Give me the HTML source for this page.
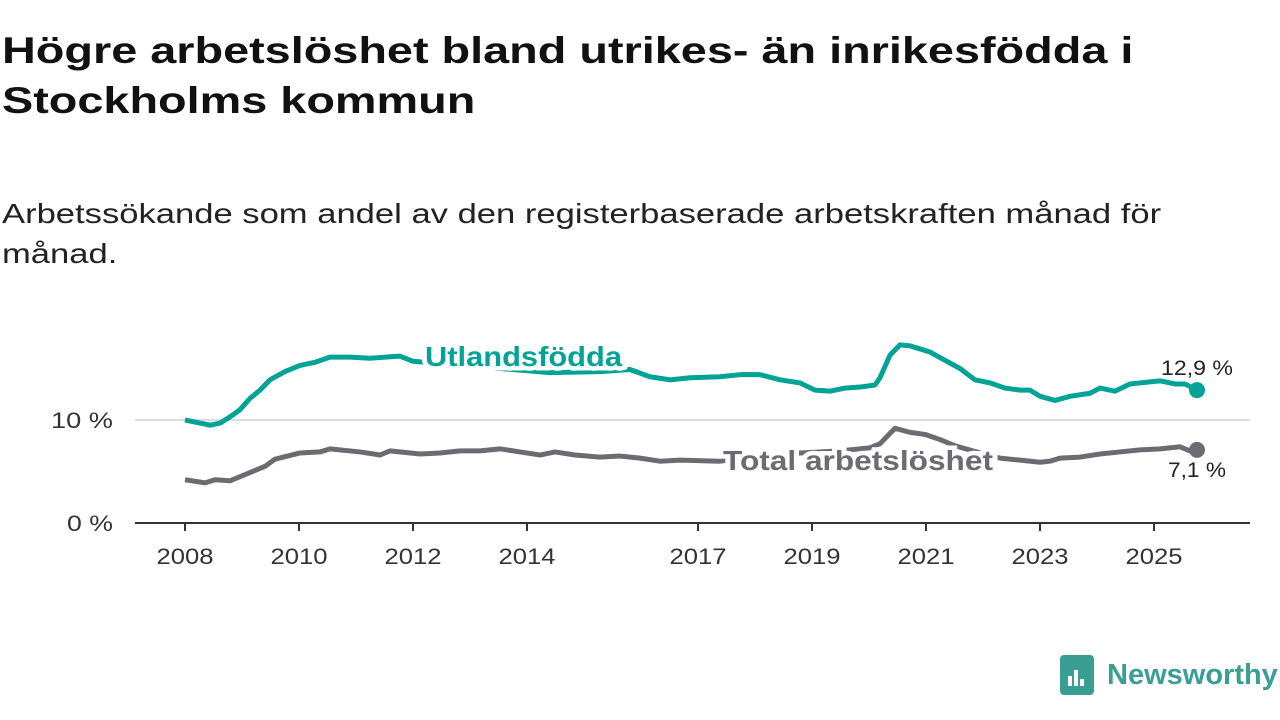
<!DOCTYPE html>
<html><head><meta charset="utf-8">
<style>
body{margin:0;width:1280px;height:720px;background:#fff;font-family:"Liberation Sans",sans-serif;overflow:hidden;position:relative}
h1{position:absolute;left:2px;top:26px;margin:0;font-size:37px;line-height:50px;font-weight:bold;color:#111;transform:scaleX(1.265);transform-origin:0 0;white-space:nowrap}
.sub{position:absolute;left:2px;top:194px;font-size:28px;line-height:40px;color:#222;transform:scaleX(1.235);transform-origin:0 0;white-space:nowrap}
svg{position:absolute;left:0;top:0}
</style></head><body>
<h1>Högre arbetslöshet bland utrikes- än inrikesfödda i<br>Stockholms kommun</h1>
<div class="sub">Arbetssökande som andel av den registerbaserade arbetskraften månad för<br>månad.</div>
<svg id="chart" width="1280" height="720"></svg>
<div style="position:absolute;left:1060px;top:655px;display:flex;align-items:center;color:#3a9e94;font-size:29px;font-weight:bold">
<div style="width:34px;height:40px;background:#3a9e94;border-radius:4px;margin-right:13px;position:relative"><div style="position:absolute;left:8px;bottom:9px;width:4px;height:10px;background:#fff"></div><div style="position:absolute;left:14px;bottom:9px;width:4px;height:16px;background:#fff"></div><div style="position:absolute;left:20px;bottom:9px;width:4px;height:7px;background:#fff"></div></div>Newsworthy</div>
<script>
const tickYears=[2008,2010,2012,2014,2017,2019,2021,2023,2025];
const yTicks=[0,10];
const teal=[[185,10.0],[200,9.7],[210,9.5],[220,9.7],[230,10.3],[240,11.0],[250,12.1],[260,12.9],[270,13.9],[285,14.7],[300,15.3],[315,15.6],[330,16.1],[350,16.1],[370,16.0],[385,16.1],[400,16.2],[413,15.7],[450,15.4],[500,15.0],[550,14.6],[600,14.7],[630,14.9],[650,14.2],[670,13.9],[690,14.1],[720,14.2],[740,14.4],[760,14.4],[780,13.9],[800,13.6],[815,12.9],[830,12.8],[845,13.1],[860,13.2],[875,13.4],[880,14.1],[890,16.3],[900,17.3],[910,17.2],[920,16.9],[930,16.6],[945,15.8],[960,15.0],[975,13.9],[990,13.6],[1005,13.1],[1020,12.9],[1030,12.9],[1040,12.3],[1055,11.9],[1070,12.3],[1090,12.6],[1100,13.1],[1115,12.8],[1130,13.5],[1150,13.7],[1160,13.8],[1175,13.5],[1185,13.5],[1197,12.9]];
const gray=[[185,4.2],[205,3.9],[215,4.2],[230,4.1],[250,4.9],[265,5.5],[275,6.2],[300,6.8],[320,6.9],[330,7.2],[360,6.9],[380,6.6],[390,7.0],[420,6.7],[440,6.8],[460,7.0],[480,7.0],[500,7.2],[520,6.9],[540,6.6],[555,6.9],[575,6.6],[600,6.4],[620,6.5],[640,6.3],[660,6.0],[680,6.1],[720,6.0],[760,6.5],[800,6.8],[840,7.0],[870,7.3],[880,7.7],[895,9.2],[910,8.8],[925,8.6],[940,8.1],[955,7.5],[980,6.8],[1000,6.3],[1020,6.1],[1040,5.9],[1050,6.0],[1060,6.3],[1080,6.4],[1100,6.7],[1120,6.9],[1140,7.1],[1160,7.2],[1180,7.4],[1190,7.0],[1197,7.1]];
const endLabels=["12,9 %","7,1 %"];
const X=v=>185+(v-185), Y=v=>523-v*10.3, XY=y=>185+(y-2008)*57;
const s=document.getElementById('chart'),NS='http://www.w3.org/2000/svg';
function el(t,a,txt){const e=document.createElementNS(NS,t);for(const k in a)e.setAttribute(k,a[k]);if(txt)e.textContent=txt;s.appendChild(e);return e;}
const SG='spacingAndGlyphs';
let g=el('line',{x1:135,x2:1250,y1:Y(10),y2:Y(10),stroke:'#ddd','stroke-width':2});


yTicks.forEach(t=>{const e=el('text',{x:113,y:Y(t)+8,'text-anchor':'end','font-size':22,fill:'#333',textLength:t?62:46,lengthAdjust:SG},t+' %');

});
let ax=el('line',{x1:135,x2:1250,y1:523,y2:523,stroke:'#333','stroke-width':2});


tickYears.forEach(t=>{const x=XY(t);el('line',{x1:x,x2:x,y1:523,y2:531,stroke:'#333','stroke-width':2});
const e=el('text',{x:x,y:564,'text-anchor':'middle','font-size':22,fill:'#333',textLength:57,lengthAdjust:SG},t);

});
function line(d,c,n){const p=el('path',{d:d.map((p,i)=>(i?'L':'M')+X(p[0])+','+Y(p[1])).join(''),fill:'none',stroke:c,'stroke-width':5,'stroke-linejoin':'round'});


const l=d[d.length-1];const c2=el('circle',{cx:X(l[0]),cy:Y(l[1]),r:8,fill:c});

}
line(gray,'#6d6b72','series-total');
line(teal,'#00a396','series-utlandsfodda');
let t1=el('text',{x:425,y:366,'font-size':28,'font-weight':'bold',fill:'#00a396',stroke:'#fff','stroke-width':9,'paint-order':'stroke',textLength:197,lengthAdjust:SG},'Utlandsfödda');


let t2=el('text',{x:723,y:470,'font-size':28,'font-weight':'bold',fill:'#6d6b72',stroke:'#fff','stroke-width':9,'paint-order':'stroke',textLength:270,lengthAdjust:SG},'Total arbetslöshet');


let e1=el('text',{x:1197,y:375,'text-anchor':'middle','font-size':21,fill:'#222',textLength:72,lengthAdjust:SG},endLabels[0]);


let e2=el('text',{x:1197,y:477,'text-anchor':'middle','font-size':21,fill:'#222',textLength:58,lengthAdjust:SG},endLabels[1]);


</script>
</body></html>
